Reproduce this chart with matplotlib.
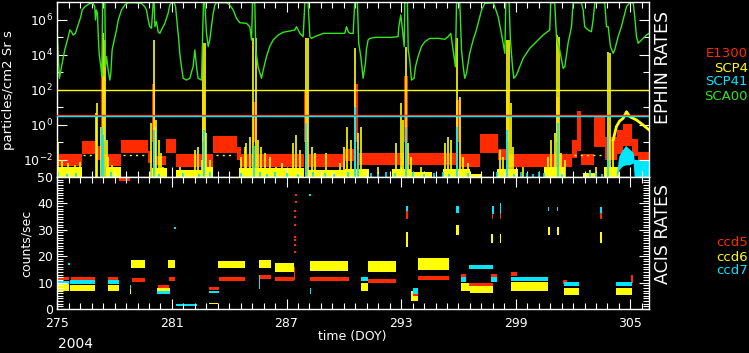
import matplotlib
matplotlib.use('Agg')
import numpy as np
import matplotlib.pyplot as plt
from matplotlib.ticker import FixedLocator, NullFormatter

RED = '#ff2a00'
YEL = '#ffff00'
CYN = '#00e6ff'
GRN = '#33e619'

# ---------------- EPHIN rates (log10 of particles/cm2 Sr s) ----------------
sca00_day = [275.01, 275.11, 275.22, 275.39, 275.53, 275.66, 275.74, 275.83, 275.95, 276.09,
             276.23, 276.30, 276.44, 276.70, 276.88, 276.96, 277.00, 277.05, 277.10, 277.14,
             277.19, 277.28, 277.33, 277.37, 277.49, 277.52, 277.58, 277.66, 277.75, 277.80,
             277.87, 277.98, 278.10, 278.19, 278.36, 278.53, 278.71, 279.06, 279.41, 279.58,
             279.67, 279.76, 279.84, 279.93, 280.02, 280.07, 280.11, 280.19, 280.28, 280.37,
             280.45, 280.63, 280.80, 280.89, 280.98, 281.12, 281.19, 281.29, 281.36, 281.41,
             281.50, 281.59, 281.76, 281.94, 282.03, 282.11, 282.20, 282.29, 282.37, 282.55,
             282.60, 282.65, 282.72, 282.81, 282.90, 282.98, 283.07, 283.16, 283.25, 283.33,
             283.86, 284.03, 284.21, 284.38, 284.55, 284.90, 285.08, 285.17, 285.22, 285.34,
             285.39, 285.51, 285.69, 285.78, 285.95, 286.12, 286.30, 286.56, 286.82, 287.17,
             287.43, 287.52, 287.70, 287.87, 287.96, 288.13, 288.22, 288.31, 288.48, 288.92,
             290.05, 290.14, 290.23, 290.31, 290.49, 290.57, 290.71, 290.78, 290.89, 291.01,
             291.13, 291.18, 291.27, 291.36, 291.62, 292.49, 292.84, 292.88, 292.98, 293.05,
             293.16, 293.19, 293.33, 293.37, 293.45, 293.54, 293.68, 293.75, 293.89, 294.06,
             294.24, 294.50, 294.94, 295.29, 295.46, 295.60, 295.72, 295.84, 295.90, 296.07,
             296.12, 296.16, 296.25, 296.33, 296.42, 296.59, 296.77, 296.94, 297.12, 297.21,
             297.38, 297.82, 297.90, 298.08, 298.25, 298.43, 298.48, 298.65, 298.72, 298.83,
             298.90, 299.04, 299.21, 299.39, 299.56, 299.73, 300.08, 300.43, 300.78, 300.83,
             301.04, 301.13, 301.30, 301.48, 301.57, 301.74, 301.92, 302.00, 302.44, 302.53,
             302.61, 302.79, 302.96, 303.05, 303.14, 303.66, 303.75, 303.84, 303.96, 304.10,
             304.18, 304.36, 304.53, 304.71, 304.80, 304.97, 305.15, 305.23, 305.32, 305.41,
             305.58, 305.84, 305.98]
sca00_log = [4.83, 2.64, 3.30, 4.26, 4.83, 5.40, 5.30, 5.11, 5.21, 5.69,
             6.16, 6.54, 6.73, 6.92, 6.92, 6.73, 5.97, 6.54, 6.35, 5.21,
             4.07, 3.30, 2.73, 7.02, 7.02, 3.30, 3.88, 3.11, 2.54, 2.92,
             4.26, 4.83, 5.40, 5.97, 6.54, 6.83, 6.96, 6.96, 6.92, 6.73,
             6.54, 5.97, 5.59, 5.50, 6.96, 6.96, 5.59, 5.88, 5.30, 5.21,
             5.40, 5.78, 6.35, 6.83, 6.96, 6.96, 6.73, 5.59, 4.83, 4.07,
             3.30, 2.64, 2.54, 2.64, 3.02, 3.30, 4.26, 3.30, 2.64, 2.54,
             4.64, 6.92, 6.92, 5.21, 4.45, 4.83, 5.59, 6.35, 6.83, 6.96,
             6.96, 6.83, 6.54, 6.07, 5.82, 5.78, 5.59, 4.83, 6.96, 6.96,
             4.26, 3.30, 2.64, 3.11, 3.88, 4.45, 4.83, 5.11, 5.27, 5.34,
             5.40, 5.59, 5.21, 5.02, 6.96, 6.96, 5.02, 4.92, 5.02, 5.21,
             5.21, 5.59, 5.30, 5.21, 5.21, 6.96, 6.96, 4.64, 3.88, 2.64,
             3.50, 4.26, 4.83, 4.92, 4.98, 4.98, 5.02, 5.59, 6.26, 5.59,
             4.45, 6.96, 6.96, 4.26, 3.69, 2.54, 2.64, 3.30, 3.88, 4.45,
             4.73, 4.92, 4.92, 4.87, 5.02, 5.21, 4.26, 3.30, 6.96, 6.96,
             5.59, 4.26, 3.30, 2.64, 2.92, 4.07, 4.83, 5.40, 6.16, 6.54,
             6.92, 6.96, 6.73, 6.16, 5.21, 4.07, 7.02, 7.02, 4.83, 3.30,
             2.64, 2.83, 3.30, 3.78, 4.07, 4.35, 4.73, 5.11, 5.40, 6.96,
             6.96, 5.02, 4.26, 3.21, 3.30, 4.64, 5.59, 6.96, 6.96, 6.54,
             5.59, 5.40, 5.30, 5.97, 6.96, 6.96, 5.59, 5.59, 4.45, 4.07,
             4.26, 5.02, 5.59, 6.35, 6.73, 6.96, 6.96, 6.16, 5.02, 4.64,
             4.83, 5.11, 5.21]

# E1300 noisy band: lower / upper envelope held from each day to the next
e13_day = [275.00, 276.27, 277.10, 277.30, 277.52, 278.36, 279.76, 279.98, 280.10, 280.70,
           281.20, 282.58, 282.75, 283.16, 284.40, 284.60, 285.22, 285.40, 287.93, 288.15,
           290.05, 290.52, 290.75, 293.17, 293.35, 295.88, 296.10, 297.12, 298.08, 298.48,
           298.65, 301.10, 301.25, 301.95, 302.20, 302.42, 303.12, 303.68, 304.30, 304.60,
           305.10, 305.40, 305.98]
e13_lo = [-2.35, -1.70, -2.00, -1.00, -2.35, -1.65, -2.20, -1.00, -2.30, -1.65,
          -2.45, -1.00, -2.40, -1.65, -2.00, -2.40, -1.00, -2.40, -1.00, -2.40,
          -2.10, -1.00, -2.30, -1.00, -2.30, -1.00, -2.40, -1.65, -2.00, -1.00,
          -2.40, -1.00, -2.40, -1.90, -1.50, -2.30, -1.30, -2.00, -1.70, -1.20,
          -1.80, -2.15, -2.15]
e13_hi = [-1.70, -0.95, -1.20, 2.80, -1.70, -0.90, -1.50, 2.30, -1.80, -0.85,
          -1.70, 1.90, -1.70, -0.65, -1.30, -1.70, 1.30, -1.70, 2.00, -1.70,
          -1.40, 2.30, -1.60, 2.75, -1.60, 1.40, -1.70, -0.55, -1.40, 2.00,
          -1.70, 1.60, -1.70, -0.90, 0.80, -1.70, 0.50, -0.70, -0.30, 0.05,
          -0.80, -1.55, -1.55]

# SCP4 spikes (log10 of top)
scp4_spk_day = [275.04, 275.22, 275.57, 275.92, 276.18, 277.00, 277.09, 277.31, 277.40, 277.49,
                277.58, 277.66, 277.84, 278.10, 279.93, 280.04, 280.11, 280.19, 280.31, 280.42,
                280.54, 281.41, 281.76, 282.20, 282.37, 282.55, 282.65, 282.72, 282.81, 282.98,
                284.64, 284.82, 284.90, 285.08, 285.25, 285.39, 285.51, 285.69, 285.86, 286.12,
                286.47, 286.74, 287.35, 287.52, 287.70, 288.01, 288.13, 288.31, 288.48, 289.09,
                289.79, 290.00, 290.17, 290.40, 290.61, 290.75, 290.89, 291.10, 291.80, 292.75,
                292.98, 293.10, 293.24, 293.37, 293.54, 294.06, 295.29, 295.46, 295.63, 295.95,
                296.07, 296.25, 296.51, 298.16, 298.34, 298.55, 298.65, 298.77, 298.86, 299.39,
                300.69, 300.87, 301.04, 301.18, 301.27, 301.39, 301.57, 302.88, 303.22, 303.84,
                303.92, 304.10]
scp4_spk_top = [-0.98, -2.03, -2.22, -2.31, -2.12, 0.64, 1.21, -0.12, 5.21, 4.83,
                -0.89, -1.84, -2.31, -2.41, 0.07, 4.83, -0.12, 0.26, -0.89, -1.65,
                -2.41, -2.41, -2.60, -1.46, -1.27, -2.03, 4.64, 4.64, -0.50, -2.03,
                -1.84, -1.27, -1.08, -0.70, 4.92, 4.92, -0.89, -1.27, -1.65, -1.84,
                -2.41, -2.22, -1.08, -0.60, -1.46, 4.92, 4.92, -1.27, -1.65, -1.65,
                -2.22, -1.27, -0.12, -0.89, 4.35, -0.50, -0.12, -2.60, -2.41, -1.08,
                1.21, 0.26, 4.45, -1.08, -1.84, -2.41, -1.08, -0.70, -0.89, 4.92,
                1.59, -1.84, -2.22, -1.46, -1.84, 4.83, 4.83, 1.21, -1.27, -2.41,
                -1.84, -0.89, -0.50, 5.11, 5.02, -1.65, -2.03, -2.60, -2.41, 4.16,
                4.07, -0.89]

# SCP4 low-level band near the bottom
scp4_band_start = [275.00, 277.55, 279.95, 281.20, 282.70, 284.50, 288.15, 290.05, 292.50, 293.50,
                   295.20, 296.60, 298.00, 300.50, 302.50, 303.60]
scp4_band_end = [276.27, 278.36, 280.75, 282.60, 283.16, 287.93, 290.05, 291.30, 293.50, 294.60,
                 296.60, 297.20, 299.10, 301.60, 303.20, 304.40]
scp4_band_top = [-2.40, -2.45, -2.50, -2.60, -2.45, -2.50, -2.60, -2.55, -2.55, -2.70,
                 -2.55, -2.80, -2.55, -2.45, -2.75, -2.45]

# SCP4 quiet level dots and late-period rise
scp4_dot_start = [276.35, 278.45, 283.30, 302.05]
scp4_dot_end = [277.00, 279.70, 284.30, 303.45]
scp4_dot_level = -1.74
scp4_tail_day = [304.10, 304.27, 304.44, 304.62, 304.80, 304.97, 305.32, 305.67, 305.98]
scp4_tail_log = [-0.89, -0.12, 0.20, 0.35, 0.73, 0.45, 0.26, -0.03, -0.31]

# SCP41
scp41_spk_day = [277.33, 277.40, 280.04, 282.66, 285.30, 288.02, 290.60, 290.75, 293.24, 295.95,
                 298.55, 301.20, 303.84,
                 275.02, 275.50, 276.00, 277.80, 280.30, 281.60, 282.40, 283.00, 284.60, 285.60,
                 286.00, 286.40, 287.00, 287.60, 288.40, 289.00, 289.50, 290.20, 291.40, 291.80,
                 292.20, 292.70, 293.60, 294.20, 294.70, 295.20, 295.50, 296.50, 298.00, 298.90,
                 299.30, 299.60, 299.90, 300.20, 300.50, 301.40, 302.90, 303.20, 303.50]
scp41_spk_top = [-0.12, -0.60, -0.30, -0.30, -1.20, 0.09, 1.00, -1.46, -0.12, -0.12,
                 -0.31, 0.07, -0.70,
                 -2.70, -2.80, -2.75, -2.70, -2.80, -2.75, -2.80, -2.70, -2.75, -2.70,
                 -2.80, -2.70, -2.75, -2.80, -2.70, -2.75, -2.80, -2.70, -2.75, -2.80,
                 -2.70, -2.75, -2.70, -2.80, -2.75, -2.70, -2.80, -2.75, -2.70, -2.80,
                 -2.70, -2.75, -2.80, -2.70, -2.75, -2.80, -2.70, -2.75, -2.80]
scp41_tail_day = [304.27, 304.40, 304.55, 304.75, 304.95, 305.15, 305.20, 305.98]
scp41_tail_lo = [-3.00, -2.60, -2.40, -2.30, -2.30, -2.20, -3.00, -3.00]
scp41_tail_hi = [-2.80, -1.80, -1.50, -1.20, -1.40, -1.60, -2.00, -2.00]

# alert limits
lim_scp4 = 100.0
lim_e1300 = 3.3
lim_scp41 = 2.9

# ---------------- ACIS rates (counts/sec), start, end, low, high ----------------
ccd5_start = [275.00, 275.70, 277.65, 278.22, 278.90, 280.25, 280.85, 281.20, 282.95, 283.45,
              285.55, 286.40, 287.40, 288.22, 291.27, 293.28, 293.60, 293.90, 296.16, 296.56,
              297.73, 297.78, 298.17, 298.77, 301.50, 303.40, 305.02]
ccd5_end = [275.60, 276.95, 278.20, 278.80, 279.60, 280.85, 281.15, 282.30, 283.45, 284.85,
            286.20, 287.40, 287.47, 290.25, 292.75, 293.36, 293.90, 295.50, 296.40, 297.80,
            298.00, 297.83, 298.22, 299.05, 301.70, 303.50, 305.12]
ccd5_lo = [10.8, 10.9, 10.9, 48.5, 10.2, 7.8, 10.6, 1.0, 7.3, 10.5,
           11.5, 10.6, 11.0, 10.6, 10.0, 34.0, 5.0, 10.9, 11.8, 8.8,
           11.8, 34.0, 34.0, 12.5, 9.6, 34.0, 10.0]
ccd5_hi = [12.2, 12.2, 12.0, 51.0, 11.6, 9.0, 12.0, 1.8, 8.5, 12.0,
           13.0, 12.0, 16.0, 12.2, 11.4, 37.0, 7.0, 12.5, 13.2, 10.0,
           13.2, 37.0, 37.0, 14.0, 11.0, 36.5, 13.0]
ccd5_dot_day = [287.44, 287.45, 287.46, 287.45, 287.47, 287.46, 287.47, 287.48, 287.48]
ccd5_dot_val = [21.7, 24.2, 26.1, 27.4, 32.0, 34.9, 37.0, 40.6, 43.1]

ccd6_start = [275.00, 275.66, 277.63, 278.78, 278.88, 280.24, 280.80, 281.20, 282.95, 283.42,
              285.55, 286.39, 288.22, 290.89, 291.27, 293.28, 293.54, 293.89, 295.89, 296.16,
              296.60, 297.73, 298.15, 298.77, 300.70, 301.15, 301.51, 303.40, 304.24]
ccd6_end = [275.60, 276.95, 278.22, 278.88, 279.58, 280.90, 281.15, 282.30, 283.42, 284.82,
            286.18, 287.40, 290.23, 291.27, 292.75, 293.36, 293.89, 295.49, 296.03, 296.60,
            297.81, 297.83, 298.23, 300.70, 300.80, 301.25, 302.32, 303.50, 305.11]
ccd6_lo = [7.0, 6.8, 6.9, 5.5, 15.6, 7.0, 15.6, 1.2, 2.0, 15.4,
           15.6, 14.0, 14.5, 6.8, 14.2, 23.5, 3.2, 14.6, 28.0, 7.0,
           6.0, 25.0, 25.0, 7.0, 28.0, 28.0, 5.4, 25.0, 5.4]
ccd6_hi = [9.5, 9.2, 9.2, 7.5, 18.5, 8.0, 18.5, 1.9, 2.4, 18.2,
           18.5, 17.5, 18.0, 10.0, 18.0, 29.0, 7.0, 19.2, 32.0, 10.0,
           9.3, 28.5, 28.5, 10.2, 31.0, 31.0, 8.0, 29.0, 8.0]

ccd7_start = [275.00, 275.66, 277.63, 278.78, 280.24, 281.20, 282.95, 285.55, 288.22, 290.89,
              293.28, 293.60, 295.89, 296.16, 296.56, 297.73, 297.78, 298.17, 298.77, 300.68,
              301.15, 301.51, 303.40, 304.24]
ccd7_end = [275.60, 276.95, 278.22, 278.88, 280.90, 282.30, 283.45, 285.62, 288.27, 291.27,
            293.36, 293.90, 296.03, 296.40, 297.81, 298.00, 297.85, 298.24, 300.70, 300.75,
            301.22, 302.32, 303.50, 305.11]
ccd7_lo = [9.3, 9.5, 9.5, 7.5, 5.8, 1.3, 6.0, 7.5, 5.8, 10.5,
           37.0, 5.5, 36.5, 10.4, 15.3, 10.4, 36.0, 36.0, 10.6, 37.0,
           37.0, 8.8, 36.5, 8.8]
ccd7_hi = [10.6, 11.0, 10.8, 9.0, 7.0, 2.0, 7.0, 12.8, 7.8, 12.0,
           39.0, 8.0, 39.0, 12.0, 16.6, 12.0, 39.0, 40.0, 12.0, 38.5,
           38.5, 10.2, 38.5, 10.2]
ccd7_dot_day = [281.15, 288.22, 275.60]
ccd7_dot_val = [30.5, 43.0, 17.0]

day_ticks = [275, 281, 287, 293, 299, 305]

# ---------------- figure ----------------
fig = plt.figure(figsize=(7.49, 3.53), dpi=100, facecolor='black')
L = 57.3 / 749
W = 591.2 / 749
ax1 = fig.add_axes([L, 1 - 177 / 353, W, 175 / 353], facecolor='black')
ax2 = fig.add_axes([L, 1 - 309 / 353, W, 132 / 353], facecolor='black')

# top panel
ax1.fill_between(e13_day, 10 ** np.array(e13_lo), 10 ** np.array(e13_hi),
                 step='post', color=RED, lw=0)
for s, e, t in zip(scp4_band_start, scp4_band_end, scp4_band_top):
    ax1.fill_between([s, e], 1e-3, 10 ** t, color=YEL, lw=0)
ax1.vlines(scp4_spk_day, 1e-3, 10 ** np.array(scp4_spk_top), color=YEL, lw=1.2)
ax1.hlines([10 ** scp4_dot_level] * len(scp4_dot_start), scp4_dot_start, scp4_dot_end,
           color=YEL, lw=1.0, linestyles=(0, (1.5, 3)))
ax1.plot(scp4_tail_day, 10 ** np.array(scp4_tail_log), color=YEL, lw=2)
ax1.vlines(scp41_spk_day, 1e-3, 10 ** np.array(scp41_spk_top), color=CYN, lw=1.2)
ax1.fill_between(scp41_tail_day, 10 ** np.array(scp41_tail_lo), 10 ** np.array(scp41_tail_hi),
                 color=CYN, lw=0)
ax1.plot(sca00_day, 10 ** np.array(sca00_log), color=GRN, lw=1.0)
ax1.axhline(lim_scp4, color=YEL, lw=1.0, zorder=5)
ax1.axhline(lim_e1300, color=RED, lw=1.0, zorder=5)
ax1.axhline(lim_scp41, color=CYN, lw=1.0, zorder=5)

ax1.set_yscale('log')
ax1.set_ylim(1e-3, 1e7)
ax1.yaxis.set_major_locator(FixedLocator([1e-2, 1e0, 1e2, 1e4, 1e6]))
ax1.yaxis.set_minor_locator(FixedLocator([1e-1, 1e1, 1e3, 1e5]))
ax1.yaxis.set_minor_formatter(NullFormatter())

# bottom panel
ax2.bar(ccd6_start, np.array(ccd6_hi) - np.array(ccd6_lo),
        width=np.array(ccd6_end) - np.array(ccd6_start), bottom=ccd6_lo,
        align='edge', color=YEL, lw=0)
ax2.bar(ccd5_start, np.array(ccd5_hi) - np.array(ccd5_lo),
        width=np.array(ccd5_end) - np.array(ccd5_start), bottom=ccd5_lo,
        align='edge', color=RED, lw=0)
ax2.bar(ccd7_start, np.array(ccd7_hi) - np.array(ccd7_lo),
        width=np.array(ccd7_end) - np.array(ccd7_start), bottom=ccd7_lo,
        align='edge', color=CYN, lw=0)
ax2.scatter(ccd5_dot_day, ccd5_dot_val, s=2, marker='s', color=RED, lw=0)
ax2.scatter(ccd7_dot_day, ccd7_dot_val, s=2, marker='s', color=CYN, lw=0)
ax2.set_ylim(0, 50)
ax2.yaxis.set_major_locator(FixedLocator([0, 10, 20, 30, 40, 50]))
ax2.yaxis.set_minor_locator(FixedLocator(list(range(0, 51))))

for ax in (ax1, ax2):
    ax.set_xlim(275, 305.95)
    ax.xaxis.set_major_locator(FixedLocator(day_ticks))
    ax.xaxis.set_minor_locator(FixedLocator(list(np.arange(275, 306, 0.6))))
    ax.tick_params(which='both', direction='in', colors='white', top=True, right=True,
                   labelsize=9, width=0.8, pad=3)
    ax.tick_params(which='major', length=7)
    ax.tick_params(which='minor', length=4)
    for sp in ax.spines.values():
        sp.set_color('white')
        sp.set_linewidth(1.0)
ax1.tick_params(labelbottom=False)
ax2.tick_params(axis='x', pad=6)

fig.text(9 / 749, 1 - 90 / 353, 'particles/cm2 Sr s', color='white', fontsize=9.5,
         rotation=90, ha='center', va='center')
fig.text(26 / 749, 1 - 243 / 353, 'counts/sec', color='white', fontsize=9,
         rotation=90, ha='center', va='center')
fig.text(352 / 749, 1 - 336.5 / 353, 'time (DOY)', color='white', fontsize=9,
         ha='center', va='center')
fig.text(58 / 749, 1 - 351 / 353, '2004', color='white', fontsize=10, ha='left', va='bottom')
fig.text(663 / 749, 1 - 67 / 353, 'EPHIN RATES', color='white', fontsize=12.5,
         rotation=90, ha='center', va='center')
fig.text(663 / 749, 1 - 234 / 353, 'ACIS RATES', color='white', fontsize=12.5,
         rotation=90, ha='center', va='center')

for lab, col, yy in [('E1300', RED, 53.3), ('SCP4', YEL, 68.3),
                     ('SCP41', CYN, 81.7), ('SCA00', GRN, 96.7)]:
    fig.text(748 / 749, 1 - yy / 353, lab, color=col, fontsize=9.5, ha='right', va='center')
for lab, col, yy in [('ccd5', RED, 242.7), ('ccd6', YEL, 257.7), ('ccd7', CYN, 271.0)]:
    fig.text(748 / 749, 1 - yy / 353, lab, color=col, fontsize=9.5, ha='right', va='center')

fig.savefig('out.png', dpi=100, facecolor='black')
